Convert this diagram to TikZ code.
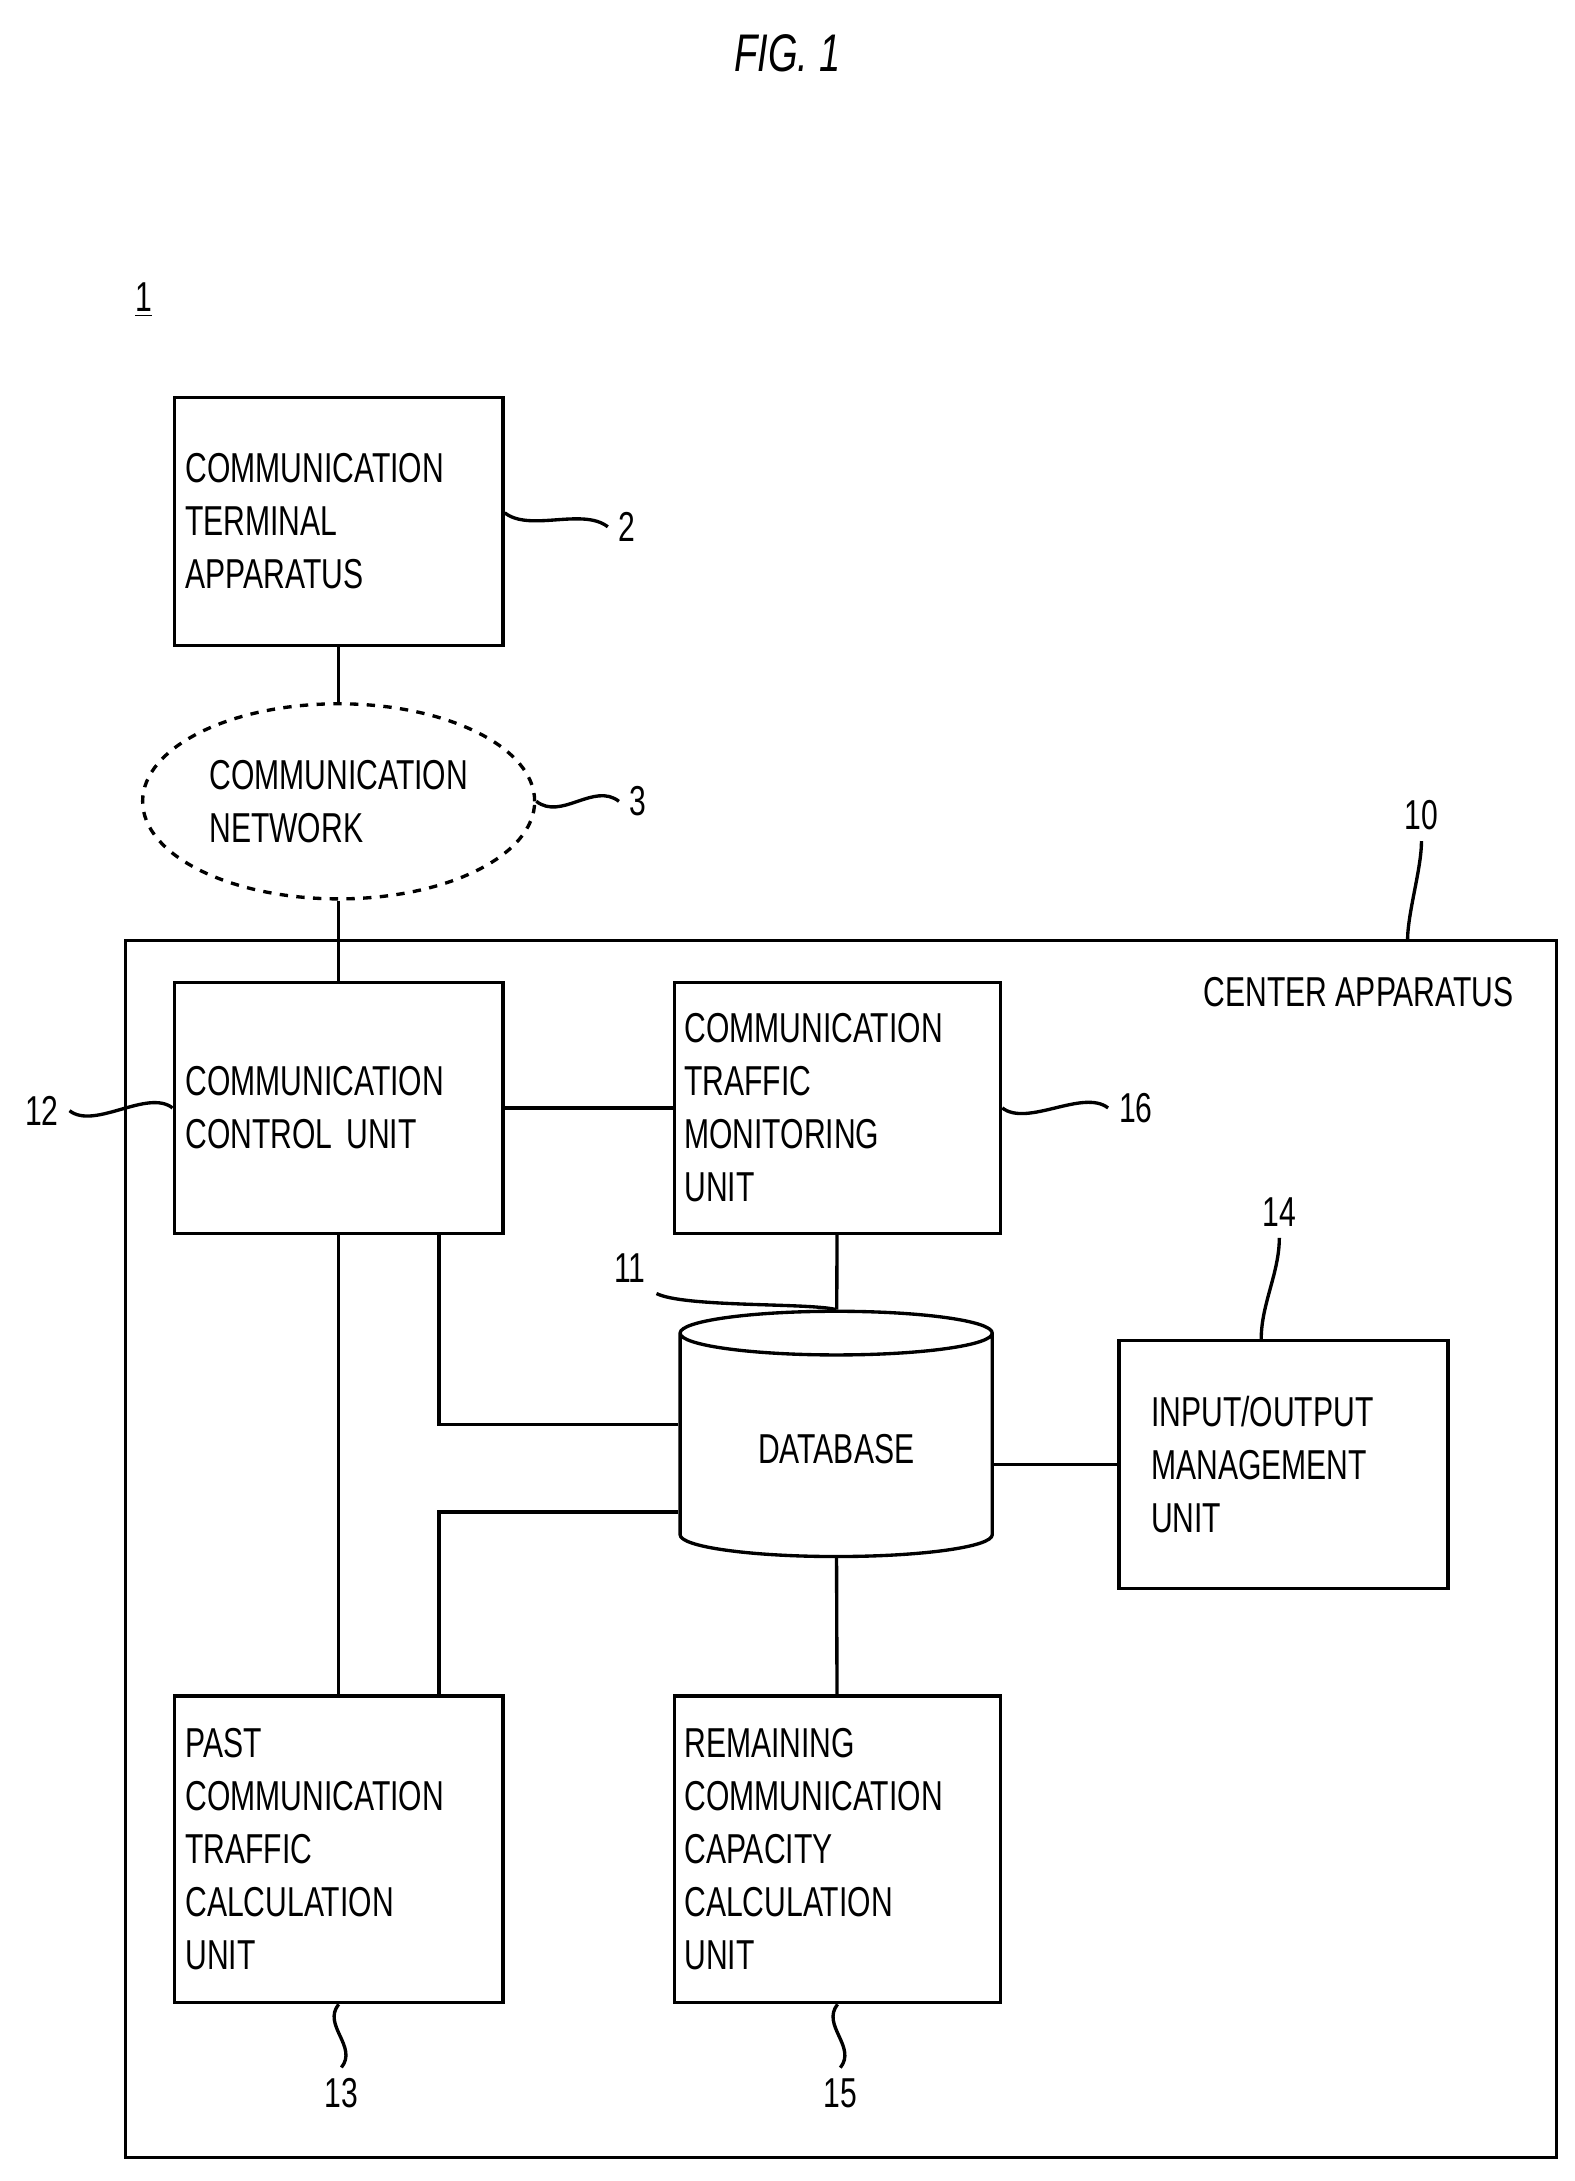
\documentclass[tikz,border=0pt]{standalone}
\usepackage{fontspec}
\setmainfont{Liberation Sans}[FakeStretch=0.72]
\usetikzlibrary{positioning,calc,shapes.geometric}
\tikzset{
    every picture/.style={line width=1.2pt},
    block/.style={draw,rectangle,align=left,font=\fontsize{15}{19}\selectfont},
    tag/.style={font=\fontsize{15}{18}\selectfont},
    lead/.style={to path={.. controls +(18,14) and +(-18,-14) .. (\tikztotarget)}}
}
\begin{document}
\begin{tikzpicture}[x=0.5pt,y=-0.5pt]
    \useasboundingbox (0,0) rectangle (1130,1565);
    % title and ref
    \node (title) at (565,38) {\fontsize{19}{22}\selectfont\itshape FIG. 1};
    \node[tag] (ref1) at (103,215) {\underline{1}};

    % blocks
    \draw (90,675) rectangle (1117,1548);
    \coordinate (frametop) at (1010,675);
    \node[tag] (cname) at (975,712) {CENTER APPARATUS};
    \node[block,minimum width=118pt,minimum height=89pt,text width=110pt] (term) at (243,374)
        {COMMUNICATION\\TERMINAL\\APPARATUS};
    \node[draw,ellipse,dashed,minimum width=125pt,minimum height=70pt,align=left,
        font=\fontsize{15}{19}\selectfont] (net) at (243,575) {COMMUNICATION\\NETWORK};
    \node[block,minimum width=118pt,minimum height=90pt,text width=110pt] (ctrl) at (243,795)
        {COMMUNICATION\\CONTROL UNIT};
    \node[block,minimum width=117pt,minimum height=90pt,text width=110pt] (mon) at (601,795)
        {COMMUNICATION\\TRAFFIC\\MONITORING\\UNIT};
    \node[draw,cylinder,shape border rotate=90,aspect=0.25,minimum width=112pt,minimum height=88pt,
        font=\fontsize{15}{19}\selectfont] (db) at (600,1040) {DATABASE};
    \node[block,minimum width=118pt,minimum height=89pt,text width=95pt] (io) at (921,1051)
        {INPUT/OUTPUT\\MANAGEMENT\\UNIT};
    \node[block,minimum width=118pt,minimum height=110pt,text width=110pt] (past) at (243,1327)
        {PAST\\COMMUNICATION\\TRAFFIC\\CALCULATION\\UNIT};
    \node[block,minimum width=117pt,minimum height=110pt,text width=110pt] (rem) at (601,1327)
        {REMAINING\\COMMUNICATION\\CAPACITY\\CALCULATION\\UNIT};

    % links
    \draw (term) -- (net);
    \draw (net) -- (ctrl);
    \draw (ctrl) -- (mon);
    \draw (mon) -- (db);
    \draw (db.east |- io) -- (io);
    \draw (db) -- (rem);
    \draw (ctrl) -- (past);
    \draw (ctrl.south -| 315,0) |- (db.west |- 0,1022);
    \draw (past.north -| 315,0) |- (db.west |- 0,1085);

    % reference numerals
    \node[tag] (l2) at (450,378) {2};
    \node[tag] (l3) at (458,575) {3};
    \node[tag] (l10) at (1020,585) {10};
    \node[tag] (l11) at (452,910) {11};
    \node[tag] (l12) at (30,797) {12};
    \node[tag] (l14) at (918,870) {14};
    \node[tag] (l16) at (815,795) {16};
    \node[tag] (l13) at (245,1502) {13};
    \node[tag] (l15) at (603,1502) {15};
    \draw (term.east |- 0,368) to[lead] (l2.west);
    \draw (net.east) to[lead] (l3.west);
    \draw (frametop) .. controls +(0,-20) and +(0,20) .. (l10.south);
    \draw (l11.south east) .. controls +(20,10) and +(-20,-5) .. (db.north);
    \draw (l12.east) to[lead] (ctrl.west);
    \draw (mon.east) to[lead] (l16.west);
    \draw (l14.south) .. controls +(0,25) and +(0,-25) .. (io.north -| 905,0);
    \draw (past.south) .. controls +(-12,15) and +(12,-15) .. (l13.north);
    \draw (rem.south) .. controls +(-12,15) and +(12,-15) .. (l15.north);
\end{tikzpicture}
\end{document}
